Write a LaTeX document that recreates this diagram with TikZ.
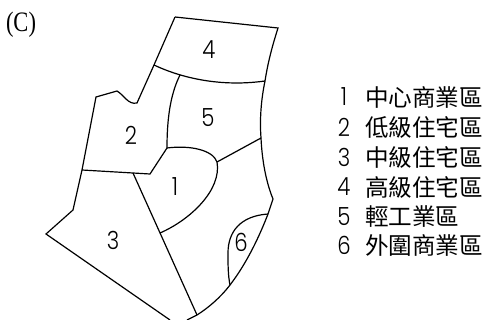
\documentclass[tikz,border=0pt]{standalone}
\usepackage{fontspec}
\setmainfont{Liberation Serif}
\newfontfamily\numf{Poppins}[UprightFont=* Light]
\newfontfamily\cjk{Noto Sans CJK TC}
\newcommand{\digitnum}[1]{\scalebox{0.85}[1]{#1}}
\tikzset{
  every path/.style={line width=1.2pt,line join=miter},
  num/.style={font=\numf\fontsize{25}{25}\selectfont,inner sep=0pt,anchor=center},
  leg/.style={font=\cjk\fontsize{23.6}{23.6}\selectfont,inner sep=0pt,anchor=west},
  legn/.style={font=\numf\fontsize{25}{25}\selectfont,inner sep=0pt,anchor=center}
}
\begin{document}
\begin{tikzpicture}[x=1pt,y=-1pt]
\useasboundingbox (0,0) rectangle (484,320);
% outline
\draw (175,17) -- (278,28) .. controls (272,47) and (268,62) .. (265,81)
  .. controls (260,105) and (260,125) .. (261,138)
  .. controls (262,160) and (266,182) .. (273,199) -- (268,214)
  .. controls (256,245) and (243,268) .. (230,285)
  .. controls (220,298) and (208,308) .. (197,315)
  -- (187,320);
\draw (175,17) -- (154,65) -- (137,103)
  .. controls (128,105) and (124,95) .. (117,91)
  -- (96,97) -- (82,170) -- (73,210) -- (46,234) -- (170,320);
% inner
\draw (154,65) .. controls (175,75) and (215,88) .. (265,81);
\draw (180,75) .. controls (170,95) and (167,120) .. (167,148);
\draw (167,148) -- (150,174) -- (82,170);
\draw (133,173) -- (197,315);
\draw (167,148) .. controls (190,145) and (213,150) .. (217,162)
  .. controls (222,190) and (190,220) .. (160,233);
\draw (217,162) -- (261,138);
\draw (268,214) .. controls (240,216) and (228,232) .. (228,253)
  .. controls (228,265) and (228,275) .. (230,285);
% labels
\node[font=\fontsize{22.5}{22.5}\selectfont,inner sep=0pt] (c) at (21,25) {\scalebox{1}[1.25]{(C)}};
\node[num] (n4) at (209,50) {\digitnum{4}};
\node[num] (n5) at (208,118) {\digitnum{5}};
\node[num] (n2) at (131,135) {\digitnum{2}};
\node[num] (n1) at (175,187) {\digitnum{1}};
\node[num] (n3) at (113,240) {\digitnum{3}};
\node[num] (n6) at (241,242) {\digitnum{6}};
% legend
\foreach \n/\y/\t in {1/97/中心商業區,2/127/低級住宅區,3/157/中級住宅區,4/187/高級住宅區,5/217/輕工業區,6/245/外圍商業區}{
  \node[legn] (l\n) at (344,\y) {\digitnum{\n}};
  \node[leg] (t\n) at (364.5,\y) {\t};
}
\end{tikzpicture}
\end{document}
